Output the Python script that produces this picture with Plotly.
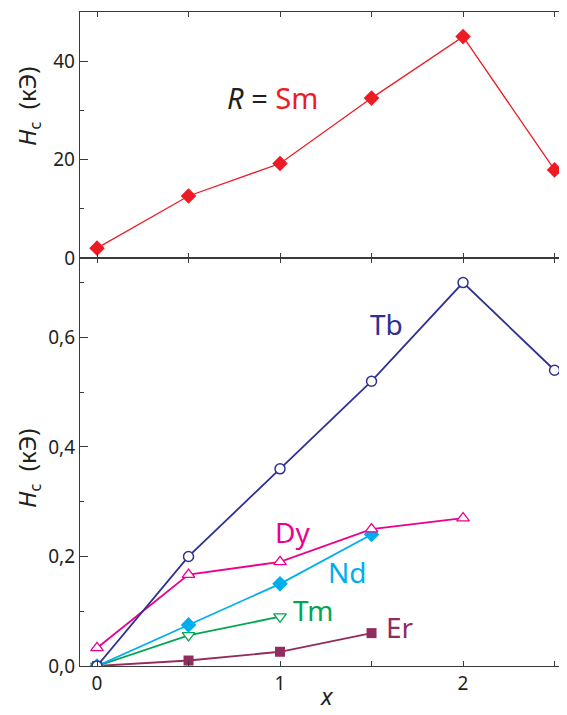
import plotly.graph_objects as go

# ---- data ----
x_sm = [0, 0.5, 1, 1.5, 2, 2.5]
hc_sm = [2.0, 12.6, 19.2, 32.5, 45.0, 17.9]

x_tb = [0, 0.5, 1, 1.5, 2, 2.5]
hc_tb = [0.0, 0.20, 0.36, 0.52, 0.70, 0.54]

x_dy = [0, 0.5, 1, 1.5, 2]
hc_dy = [0.033, 0.167, 0.19, 0.25, 0.27]

x_nd = [0, 0.5, 1, 1.5]
hc_nd = [0.0, 0.075, 0.15, 0.24]

x_tm = [0, 0.5, 1]
hc_tm = [0.0, 0.056, 0.09]

x_er = [0, 0.5, 1, 1.5]
hc_er = [0.0, 0.01, 0.026, 0.06]

x_tickvals = [0, 0.5, 1, 1.5, 2, 2.5]
x_ticktext = ["0", "", "1", "", "2", ""]
top_tickvals = [0, 20, 40]
top_ticktext = ["0", "20", "40"]
bot_tickvals = [0, 0.2, 0.4, 0.6]
bot_ticktext = ["0,0", "0,2", "0,4", "0,6"]

# ---- styles ----
FONT = "Noto Sans"
AX = "#3a3a3a"
TXT = "#231f20"
C_SM = "#ED1C24"
C_TB = "#2E3192"
C_DY = "#EC008C"
C_ND = "#00AEEF"
C_TM = "#00A651"
C_ER = "#922B5E"

fig = go.Figure()

fig.add_trace(go.Scatter(x=x_sm, y=hc_sm, mode="lines+markers", xaxis="x", yaxis="y",
                         line=dict(color=C_SM, width=1.3),
                         marker=dict(symbol="diamond", size=12, color=C_SM)))

fig.add_trace(go.Scatter(x=x_er, y=hc_er, mode="lines+markers", xaxis="x2", yaxis="y2",
                         line=dict(color=C_ER, width=1.8),
                         marker=dict(symbol="square", size=10, color=C_ER)))
fig.add_trace(go.Scatter(x=x_tm, y=hc_tm, mode="lines+markers", xaxis="x2", yaxis="y2",
                         line=dict(color=C_TM, width=1.8),
                         marker=dict(symbol="triangle-down", size=11, color="white",
                                     line=dict(color=C_TM, width=1.3))))
fig.add_trace(go.Scatter(x=x_nd, y=hc_nd, mode="lines+markers", xaxis="x2", yaxis="y2",
                         line=dict(color=C_ND, width=1.8),
                         marker=dict(symbol="diamond", size=12, color=C_ND)))
fig.add_trace(go.Scatter(x=x_dy, y=hc_dy, mode="lines+markers", xaxis="x2", yaxis="y2",
                         line=dict(color=C_DY, width=1.8),
                         marker=dict(symbol="triangle-up", size=11, color="white",
                                     line=dict(color=C_DY, width=1.3))))
fig.add_trace(go.Scatter(x=x_tb, y=hc_tb, mode="lines+markers", xaxis="x2", yaxis="y2",
                         line=dict(color=C_TB, width=1.8),
                         marker=dict(symbol="circle", size=10, color="white",
                                     line=dict(color=C_TB, width=1.5))))

XR = [-0.093, 2.568]
split = 0.6239
common_x = dict(range=XR, showline=True, linecolor=AX, linewidth=1.4, mirror="ticks",
                ticks="inside", ticklen=5, tickwidth=1.2, tickcolor=AX, automargin=False,
                tickvals=x_tickvals, showgrid=False, zeroline=False)
common_y = dict(showline=True, linecolor=AX, linewidth=1.4, ticks="inside", ticklen=8,
                tickwidth=1.2, tickcolor=AX, showgrid=False, zeroline=False, automargin=False,
                tickfont=dict(family=FONT, size=19, color=TXT))

# page body adds an 8px offset; compensate in size and margins
fig.update_layout(
    width=559, height=707,
    margin=dict(l=72, r=0, t=4, b=49),
    paper_bgcolor="white", plot_bgcolor="white",
    showlegend=False,
    font=dict(family=FONT, color=TXT),
    xaxis=dict(common_x, anchor="y", domain=[0, 1], showticklabels=False),
    yaxis=dict(common_y, domain=[split, 1], range=[0, 50], tickvals=top_tickvals,
               ticktext=top_ticktext,
               minor=dict(ticks="inside", ticklen=4, tickcolor=AX, tickwidth=1.2,
                          tickvals=[10, 30])),
    xaxis2=dict(common_x, anchor="y2", domain=[0, 1], ticktext=x_ticktext,
                tickfont=dict(family=FONT, size=19, color=TXT)),
    yaxis2=dict(common_y, domain=[0, split], range=[0, 0.745], tickvals=bot_tickvals,
                ticktext=bot_ticktext,
                minor=dict(ticks="inside", ticklen=4, tickcolor=AX, tickwidth=1.2,
                           tickvals=[0.1, 0.3, 0.5, 0.7])),
)

PH = 707 - 4 - 49
fig.add_annotation(text="<i>x</i>", xref="paper", yref="paper", x=(327 - 80) / 487,
                   y=(666 - 714) / PH, showarrow=False, xanchor="center", yanchor="bottom",
                   font=dict(family=FONT, size=24, color=TXT))

ytitle = "<i>H</i><sub>c</sub>  (кЭ)"
fig.add_annotation(text=ytitle, xref="paper", yref="paper", x=-52 / 487, y=(666 - 106) / PH,
                   textangle=-90, showarrow=False, xanchor="center", yanchor="middle",
                   font=dict(family=FONT, size=24, color=TXT))
fig.add_annotation(text=ytitle, xref="paper", yref="paper", x=-52 / 487, y=(666 - 468) / PH,
                   textangle=-90, showarrow=False, xanchor="center", yanchor="middle",
                   font=dict(family=FONT, size=24, color=TXT))

fig.add_annotation(text="<i>R</i> = <span style='color:%s'>Sm</span>" % C_SM,
                   xref="x", yref="y", x=0.96, y=32.6, showarrow=False,
                   font=dict(family=FONT, size=29, color=TXT))

labels = [("Tb", C_TB, 1.58, 0.625), ("Dy", C_DY, 1.066, 0.245),
          ("Nd", C_ND, 1.366, 0.172), ("Tm", C_TM, 1.18, 0.102),
          ("Er", C_ER, 1.656, 0.071)]
for t, c, lx, ly in labels:
    fig.add_annotation(text=t, xref="x2", yref="y2", x=lx, y=ly, showarrow=False,
                       font=dict(family=FONT, size=28, color=c))

fig.write_html("out.html")
